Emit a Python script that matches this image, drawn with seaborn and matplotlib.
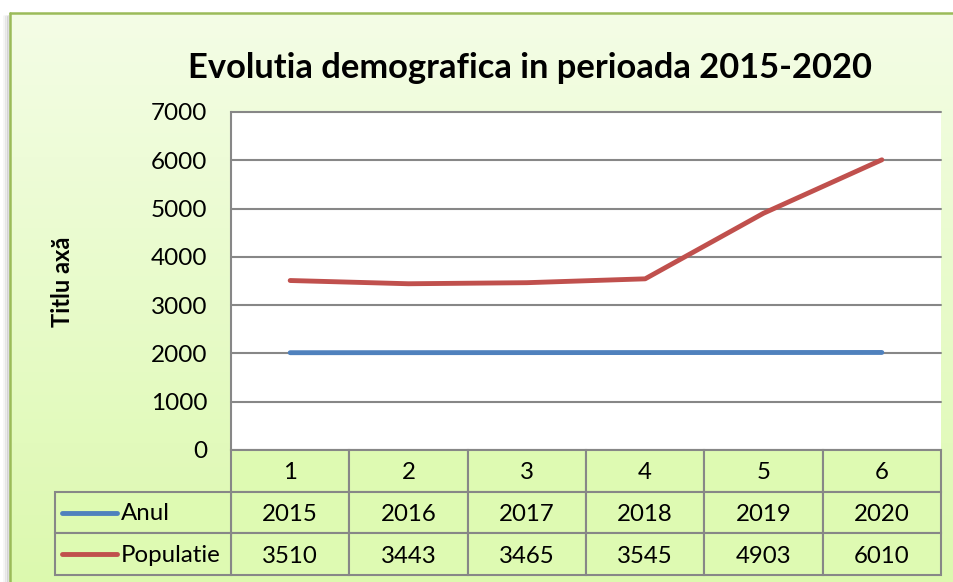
import numpy as np
import pandas as pd
import matplotlib
matplotlib.use("Agg")
import matplotlib.pyplot as plt
import seaborn as sns
from matplotlib.patches import Rectangle
from matplotlib.colors import LinearSegmentedColormap

# ---- data ----
categories = [1, 2, 3, 4, 5, 6]
anul = [2015, 2016, 2017, 2018, 2019, 2020]
populatie = [3510, 3443, 3465, 3545, 4903, 6010]
series_names = ["Anul", "Populatie"]
series_colors = ["#4F81BD", "#C0504D"]
yticks = [0, 1000, 2000, 3000, 4000, 5000, 6000, 7000]
title = "Evolutia demografica in perioada 2015-2020"
ylabel = "Titlu axă"

sns.set_theme(style="white")
plt.rcParams["font.family"] = ["Lato", "DejaVu Sans"]

W, H = 954, 582
fig = plt.figure(figsize=(W / 100, H / 100), dpi=100)
fig.patch.set_facecolor("white")


def fx(px):
    return px / W


def fy(py):
    return 1 - py / H


# background with gradient + border
bg = fig.add_axes([0, 0, 1, 1])
bg.set_xlim(0, W)
bg.set_ylim(H, 0)
bg.axis("off")
grad = np.linspace(0, 1, 256)[:, None]
cmap = LinearSegmentedColormap.from_list("g", ["#F4FDE6", "#DCF9AE"])
bg.imshow(grad, extent=[10, W + 5, H + 5, 13], cmap=cmap, aspect="auto", zorder=0)
for i, a in enumerate([0.25, 0.15, 0.08]):
    bg.plot([8 - i * 2, 8 - i * 2], [16, H + 5], color="gray", alpha=a, lw=2, zorder=0.5)
bg.plot([10, 10], [H + 5, 13], color="#9BBB59", lw=1.8, zorder=1)
bg.plot([10, W + 5], [13, 13], color="#9BBB59", lw=1.8, zorder=1)

# main plot
L, R, T, B = 231, 941, 112, 450
ax = fig.add_axes([fx(L), fy(B), fx(R) - fx(L), fy(T) - fy(B)])
ax.set_facecolor("white")
df = pd.DataFrame({
    "cat": categories * 2,
    "value": anul + populatie,
    "serie": [series_names[0]] * len(categories) + [series_names[1]] * len(categories),
})
sns.lineplot(data=df, x="cat", y="value", hue="serie", palette=series_colors,
             linewidth=3.5, legend=False, ax=ax, zorder=3,
             solid_capstyle="round")
ax.set_xlim(0.5, 6.5)
ax.set_ylim(0, 7000)
ax.set_yticks(yticks)
ax.set_yticklabels([str(v) for v in yticks], fontsize=17.5)
ax.set_xticks([])
ax.set_xlabel("")
ax.set_ylabel("")
ax.tick_params(axis="y", length=0, pad=17, labelcolor="black")
ax.yaxis.grid(True, color="#878787", lw=1.5)
ax.xaxis.grid(False)
for s in ["top", "right", "bottom"]:
    ax.spines[s].set_visible(False)
ax.spines["left"].set_color("#878787")
ax.spines["left"].set_linewidth(1.5)
for line in ax.get_ygridlines():
    line.set_clip_on(False)

# data table
TL, TB = 55, 575
unit = (R - L) / 6.0
xleft = 6.5 - (R - TL) / unit
tax = fig.add_axes([fx(TL), fy(TB), fx(R) - fx(TL), fy(B) - fy(TB)])
tax.set_xlim(xleft, 6.5)
tax.set_ylim(3, 0)
tax.axis("off")
cell_fc = "#DEFAB2"
edge = "#878787"
rows = [categories, anul, populatie]
for r, vals in enumerate(rows):
    for c, v in zip(categories, vals):
        tax.add_patch(Rectangle((c - 0.5, r), 1, 1, facecolor=cell_fc, edgecolor=edge,
                                lw=1.5, clip_on=False))
        tax.text(c, r + 0.55, str(v), ha="center", va="center", fontsize=17.3, color="black")
for r, (name, col) in enumerate(zip(series_names, series_colors), start=1):
    tax.add_patch(Rectangle((xleft, r), 0.5 - xleft, 1, facecolor=cell_fc, edgecolor=edge,
                            lw=1.5, clip_on=False))
    x0 = xleft + (62 - TL) / unit
    x1 = xleft + (117 - TL) / unit
    tax.plot([x0, x1], [r + 0.5, r + 0.5], color=col, lw=3.5, solid_capstyle="round")
    tax.text(xleft + (121 - TL) / unit, r + 0.52, name, ha="left", va="center",
             fontsize=17.3, color="black")

# titles
fig.text(fx(530), fy(68), title, ha="center", va="center", fontsize=24.8,
         fontweight="bold", color="black")
fig.text(fx(63), fy(282), ylabel, ha="center", va="center", fontsize=17,
         fontweight="bold", rotation=90, color="black")

fig.savefig("out.png", dpi=100)
